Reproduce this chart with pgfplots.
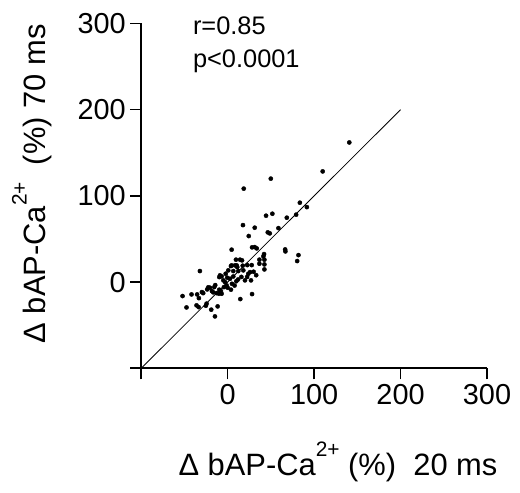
\documentclass[border=0pt]{standalone}
\usepackage{fontspec}
\setmainfont{Liberation Sans}
\usepackage{pgfplots}
\pgfplotsset{compat=1.18}
\begin{document}
\begin{tikzpicture}
\begin{axis}[
  scale only axis, width=346bp, height=345bp,
  xmin=-100, xmax=300, ymin=-100, ymax=300,
  axis x line*=bottom, axis y line*=left,
  axis line style={line width=1.6bp, black},
  xtick={0,100,200,300}, ytick={0,100,200,300},
  extra x ticks={-100}, extra x tick labels={},
  extra y ticks={-100}, extra y tick labels={},
  tick align=outside, major tick length=11bp,
  every tick/.style={line width=1.6bp, black},
  /pgf/number format/assume math mode=true,
  ticklabel style={font=\fontsize{29}{32}\selectfont},
  xticklabel style={yshift=-2bp},
  yticklabel style={xshift=-1bp},
  xlabel={Δ bAP-Ca\raisebox{0.6em}{\fontsize{21}{21}\selectfont 2+} (\%)\ \ 20 ms},
  ylabel={Δ bAP-Ca\raisebox{0.6em}{\fontsize{21}{21}\selectfont 2+}\ \ (\%) 70 ms},
  xlabel style={font=\fontsize{31}{34}\selectfont, at={(axis description cs:0.569,-0.31)}, anchor=base},
  ylabel style={font=\fontsize{31}{34}\selectfont, at={(axis description cs:-0.278,0.535)}, anchor=base, rotate=0},
  clip=false,
]
\addplot[black, line width=0.8bp] coordinates {(-100,-100) (200,200)};
\addplot[only marks, mark=*, mark size=2.1bp, black] coordinates {
(140.7,162) (109.9,128.4) (49.9,120) (18.6,108.4) (83.5,92.1) (91.6,87)
(44.4,77) (51.7,79.3) (79.2,78.2) (68.4,74.7) (17.7,66.1) (31.3,63.1)
(58.7,62.6) (24.4,53.4) (46.4,57.7) (48.7,56.5) (4.6,37.6) (28.2,40.3)
(31.3,40.6) (33.6,39.1) (66.5,37.9) (66.8,35.6) (81.9,31.3) (80.4,24.4)
(42.1,32.5) (41.3,29.8) (36.7,26) (42.5,26) (36.7,21.3) (42.5,20.5)
(42.5,14.7) (9.6,26) (14.3,26) (16.6,25.2) (4.6,19.4) (10.4,19.4)
(17.4,19) (22.7,19.7) (27.8,19.7) (6.5,12.8) (12.3,12.8) (18.1,13.6)
(23.9,9.7) (25.9,11.6) (6.5,6.5) (15.9,6) (22.5,6) (30,12) (33,8)
(20,2) (12,3) (27,2) (3.8,-8.8) (14.6,-19.7) (28.2,-13.9) (3.8,18.6)
(8.5,19.4) (11.1,17.4) (2.7,3.9) (-0.5,5.1) (-2.3,9.7) (0.7,13.6)
(-9.7,5.8) (-8.9,7.8) (-7,6.6) (-4.3,-5.8) (-1.2,-3.8) (0,-6.5)
(-9.7,-8.8) (-7.8,-10.4) (-12.8,-12.8) (-10.1,-13.5) (-7,-13.5)
(-14.4,-3.5) (-15.5,-5.8) (-18.2,-10.4) (-16.7,-11.9) (-22.5,-6.1)
(-20.5,-6.5) (-23.7,-8.5) (-32.1,12.8) (-52.2,-16.2) (-41.8,-14.3)
(-35.3,-14.3) (-29.8,-11.6) (-28.3,-12.8) (-33.3,-18.6) (-47.6,-29.4)
(-36,-27) (-33.6,-29) (-24.4,-25) (-25.2,-27.4) (-19,-32) (-11.6,-28.2)
(-14.7,-39.8) (5,-2) (8,-4) (10,1) (-3,0) (-5,2)
};
\node[anchor=base west, font=\fontsize{25.5}{28}\selectfont, inner sep=0pt] at (axis cs:-40.3,287) {r=0.85};
\node[anchor=base west, font=\fontsize{25.5}{28}\selectfont, inner sep=0pt] at (axis cs:-40.3,249.4) {p<0.0001};
\coordinate (ll) at (rel axis cs:0,0);
\coordinate (ur) at (rel axis cs:1,1);
\end{axis}
\path ([xshift=-141.3bp,yshift=-124.7bp]ll) rectangle ([xshift=33bp,yshift=23.5bp]ur);
\end{tikzpicture}
\end{document}
